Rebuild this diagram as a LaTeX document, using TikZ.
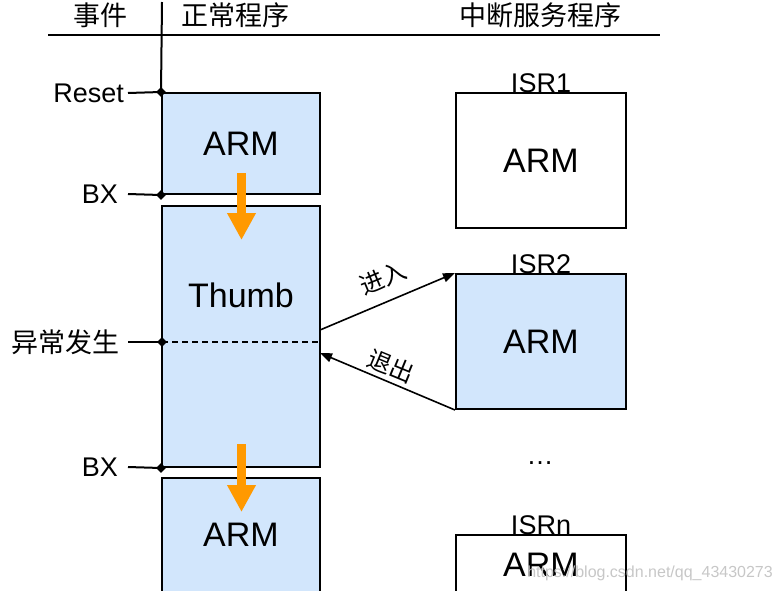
\documentclass[tikz,border=0pt]{standalone}
\usepackage{fontspec}
\setmainfont{Liberation Sans}
\newfontfamily\cjk{Noto Sans CJK SC}
\usetikzlibrary{arrows.meta,shapes.geometric}
\definecolor{boxblue}{RGB}{210,230,252}
\definecolor{arrorange}{RGB}{255,153,0}
\begin{document}
\begin{tikzpicture}[x=1pt,y=-1pt,
  bluebox/.style={draw=black, line width=2pt, fill=boxblue, inner sep=0pt,
    font=\fontsize{34}{40}\selectfont},
  whitebox/.style={draw=black, line width=2pt, fill=white, inner sep=0pt,
    font=\fontsize{34}{40}\selectfont},
  lbl/.style={inner sep=0pt, font=\fontsize{27}{30}\selectfont},
  cjklbl/.style={inner sep=0pt, font=\cjk\fontsize{27}{30}\selectfont},
  cjksmall/.style={inner sep=0pt, font=\cjk\fontsize{24}{28}\selectfont},
  rule/.style={line width=2pt},
  tickline/.style={line width=2pt},
  jdot/.style={diamond, fill=black, inner sep=0pt, minimum size=10pt},
  conn/.style={line width=1.6pt, -{Triangle[length=12pt,width=9pt]}},
  orangearrow/.style={draw=arrorange, line width=8.5pt, -{Triangle[length=27pt,width=27pt]}},
  dashline/.style={line width=1.8pt, dash pattern=on 6pt off 4pt}]
\useasboundingbox (0,0) rectangle (783,590);
\clip (0,0) rectangle (783,590);

% headers
\node[cjklbl] (hevent) at (100,15) {事件};
\node[cjklbl] (hnormal) at (235,15) {正常程序};
\node[cjklbl] (hisr) at (540,15) {中断服务程序};
\coordinate (hl) at (48,35);
\coordinate (hr) at (660,35);
\draw[rule] (hl) -- (hr);

% normal program boxes
\node[bluebox, minimum width=158pt, minimum height=101pt] (arm1) at (241,143.5) {ARM};
\node[bluebox, minimum width=158pt, minimum height=261pt] (thumb) at (241,336.5) {\raisebox{83pt}{Thumb}};
\node[bluebox, minimum width=158pt, minimum height=114pt] (arm2) at (241,535) {ARM};

% vertical line
\coordinate (vtop) at (162,2);
\draw[rule] (vtop) -- (arm1.north west);

% event ticks
\coordinate (treset) at (128,93);
\coordinate (tbx1) at (128,194);
\coordinate (texc) at (128,342);
\coordinate (exc) at (162,342);
\coordinate (exce) at (320,342);
\coordinate (tbx2) at (128,467);
\draw[tickline] (treset) -- (arm1.north west);
\draw[tickline] (tbx1) -- (arm1.south west);
\draw[tickline] (texc) -- (exc);
\draw[tickline] (tbx2) -- (thumb.south west);
\draw[dashline] (exc) -- (exce);
\node[jdot] (d1) at (arm1.north west) {};
\node[jdot] (d2) at (arm1.south west) {};
\node[jdot] (d3) at (exc) {};
\node[jdot] (d4) at (thumb.south west) {};

\node[lbl, anchor=east] (lreset) at (124,93) {Reset};
\node[lbl, anchor=east] (lbx1) at (118,194) {BX};
\node[cjklbl, anchor=east] (lexc) at (120,342) {异常发生};
\node[lbl, anchor=east] (lbx2) at (118,467) {BX};

% orange arrows
\coordinate (o1s) at (241.5,173);
\coordinate (o1e) at (241.5,240);
\coordinate (o2s) at (241.5,444);
\coordinate (o2e) at (241.5,512);
\draw[orangearrow] (o1s) -- (o1e);
\draw[orangearrow] (o2s) -- (o2e);

% ISR boxes
\node[whitebox, minimum width=170pt, minimum height=135pt] (isr1) at (541,160.5) {ARM};
\node[bluebox, minimum width=170pt, minimum height=135pt] (isr2) at (541,341.5) {ARM};
\node[whitebox, minimum width=170pt, minimum height=60pt] (isrn) at (541,565) {ARM};
\node[lbl, anchor=base] (lisr1) at (isr1.north) {ISR1};
\node[lbl, anchor=base] (lisr2) at (isr2.north) {ISR2};
\node[lbl, anchor=base] (lisrn) at (isrn.north) {ISRn};
\node[lbl, anchor=base] (dots) at (540,464) {…};

% enter / exit
\coordinate (enterstart) at (320,330);
\coordinate (exitend) at (320,353);
\draw[conn] (enterstart) -- (isr2.north west);
\draw[conn] (isr2.south west) -- (exitend);
\node[cjksmall, rotate=22.7] (lenter) at (383,278) {进入};
\node[cjksmall, rotate=-22.4] (lexit) at (391,366) {退出};

% watermark
\node[anchor=base east, inner sep=0pt, font=\fontsize{16}{18}\selectfont, text=black!22] (wm) at (773,577) {https://blog.csdn.net/qq\_43430273};
\end{tikzpicture}
\end{document}
